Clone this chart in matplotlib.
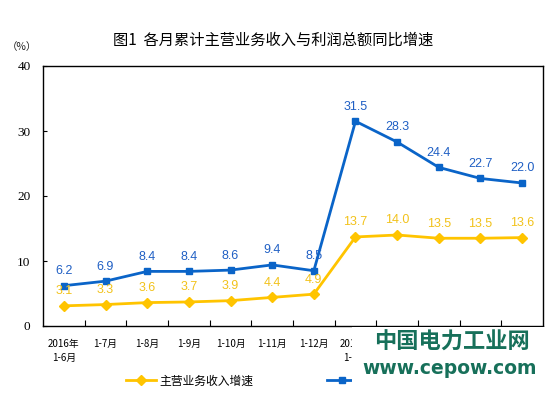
import matplotlib
matplotlib.use("Agg")
import matplotlib.pyplot as plt
from matplotlib.patches import Rectangle

plt.rcParams['font.family'] = ['Noto Sans CJK SC', 'DejaVu Sans']

categories = ["2016年\n1-6月", "1-7月", "1-8月", "1-9月", "1-10月", "1-11月", "1-12月",
              "2017年\n1-2月", "1-3月", "1-4月", "1-5月", "1-6月"]
revenue_growth = [3.1, 3.3, 3.6, 3.7, 3.9, 4.4, 4.9, 13.7, 14.0, 13.5, 13.5, 13.6]
profit_growth = [6.2, 6.9, 8.4, 8.4, 8.6, 9.4, 8.5, 31.5, 28.3, 24.4, 22.7, 22.0]
series_names = ["主营业务收入增速", "利润总额增速"]
title = "图1  各月累计主营业务收入与利润总额同比增速"

W, H = 551, 397
fig = plt.figure(figsize=(W / 100, H / 100), dpi=100)
ax = fig.add_axes([43 / W, 1 - 326 / H, 500 / W, 260 / H])

x = list(range(len(categories)))
yellow = "#ffc400"
blue = "#0a64c8"
ylab = "#f2c21a"
blab = "#1f5fc4"

ax.plot(x, revenue_growth, color=yellow, lw=2, marker="D", ms=5, label=series_names[0], zorder=3)
ax.plot(x, profit_growth, color=blue, lw=2, marker="s", ms=4.5, label=series_names[1], zorder=3)

for xi, v in zip(x, revenue_growth):
    ax.annotate(f"{v:.1f}", (xi, v), xytext=(0, 10.5), textcoords="offset points",
                ha="center", va="center", color=ylab, fontsize=9, family="Liberation Sans")
for xi, v in zip(x, profit_growth):
    ax.annotate(f"{v:.1f}", (xi, v), xytext=(0, 10.5), textcoords="offset points",
                ha="center", va="center", color=blab, fontsize=9, family="Liberation Sans")

ax.set_xlim(-0.5, len(categories) - 0.5)
ax.set_ylim(0, 40)
ax.set_yticks([0, 10, 20, 30, 40])
ax.set_yticklabels(["0", "10", "20", "30", "40"], family="Liberation Serif", fontsize=9.5)
ax.tick_params(axis="y", direction="in", length=3, pad=9, width=0.8)

ax.set_xticks([i + 0.5 for i in range(len(categories) - 1)], minor=False)
ax.set_xticklabels([])
ax.set_xticks(x, minor=True)
ax.set_xticklabels(categories, minor=True, fontsize=7, linespacing=1.5)
ax.tick_params(axis="x", which="major", direction="in", length=4, width=0.8)
ax.tick_params(axis="x", which="minor", length=0, pad=9)

for s in ax.spines.values():
    s.set_linewidth(1.0)
    s.set_color("black")

fig.text(273 / W, 1 - 40 / H, title, ha="center", va="center", fontsize=11, color="black")
fig.text(22 / W, 1 - 47 / H, "（%）", ha="center", va="center", fontsize=7.5, color="#222222")

leg = fig.legend(loc="center left", bbox_to_anchor=(126 / W, 1 - 381 / H), ncol=2, frameon=False,
                 fontsize=8.5, handlelength=2.5, columnspacing=6.2, handletextpad=0.35,
                 borderpad=0, borderaxespad=0)

# watermark
fig.patches.append(Rectangle((352 / W, 0), 1, 1 - 327 / H, transform=fig.transFigure,
                             facecolor="white", edgecolor="none", zorder=10))
wm = "#17705a"
fig.text(452 / W, 1 - 342 / H, "中国电力工业网", ha="center", va="center", fontsize=16,
         fontweight="bold", color=wm, zorder=11)
fig.text(450 / W, 1 - 369 / H, "www.cepow.com", ha="center", va="center", fontsize=13.5,
         fontweight="bold", color=wm, family="DejaVu Sans", zorder=11)

fig.savefig("out.png", dpi=100)
